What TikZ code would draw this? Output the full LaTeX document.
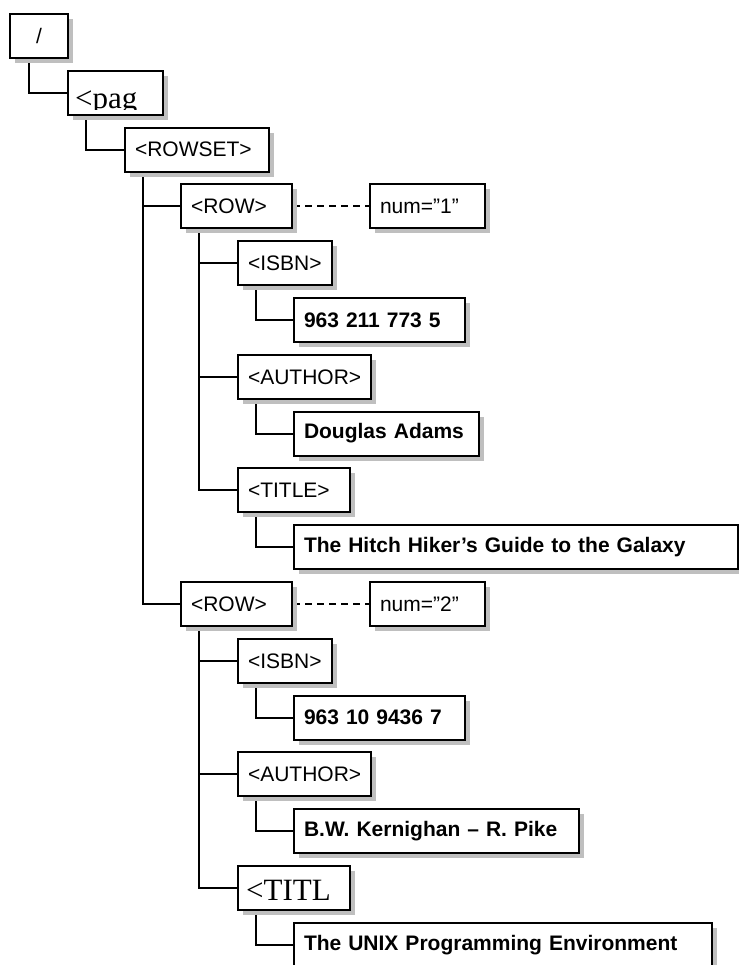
\documentclass[tikz,border=0pt]{standalone}
\usepackage{fontspec}
\setmainfont{Liberation Sans}
\newfontfamily\serifclip{Liberation Serif}
\usetikzlibrary{shadows,backgrounds}
\tikzset{
  box/.style={draw, line width=2pt, fill=white, anchor=north west,
    minimum height=44pt, inner xsep=10pt, inner ysep=0pt, align=left,
    font=\fontsize{21}{24}\selectfont,
    drop shadow={shadow xshift=5pt, shadow yshift=-5pt, fill=black!25, opacity=1}},
  vbox/.style={box, font=\fontsize{21}{24}\selectfont\bfseries},
  conn/.style={line width=2pt},
  dconn/.style={line width=1.8pt, dash pattern=on 7pt off 5pt},
  cliptext/.style={anchor=base west, inner sep=0pt, font=\serifclip\fontsize{31}{31}\selectfont}
}
\begin{document}
\begin{tikzpicture}[x=1pt,y=-1pt]
\useasboundingbox (0,0) rectangle (738,965);
% nodes
\node[box, text width=38pt, align=center] (root) at (9,13) {/};
\node[box, text width=75pt] (pag) at (67,69.8) {};
\node[box, text width=124pt] (rowset) at (124,126.6) {<ROWSET>};
\node[box, text width=91pt] (row1) at (180,183.4) {<ROW>};
\node[box, text width=95pt] (num1) at (369,183.4) {num=”1”};
\node[box, text width=74pt] (isbn1) at (237,240.2) {<ISBN>};
\node[vbox, text width=151pt] (val1) at (293,297) {963 211 773 5};
\node[box, text width=113pt] (author1) at (237,353.8) {<AUTHOR>};
\node[vbox, text width=165pt] (val2) at (293,410.6) {Douglas Adams};
\node[box, text width=92pt] (title1) at (237,467.4) {<TITLE>};
\node[vbox, text width=424pt] (val3) at (293,524.2) {The Hitch Hiker’s Guide to the Galaxy};
\node[box, text width=91pt] (row2) at (180,581) {<ROW>};
\node[box, text width=95pt] (num2) at (369,581) {num=”2”};
\node[box, text width=74pt] (isbn2) at (237,637.8) {<ISBN>};
\node[vbox, text width=151pt] (val4) at (293,694.6) {963 10 9436 7};
\node[box, text width=113pt] (author2) at (237,751.4) {<AUTHOR>};
\node[vbox, text width=265pt] (val5) at (293,808.2) {B.W. Kernighan – R. Pike};
\node[box, text width=92pt] (title2) at (237,865) {};
\node[vbox, text width=398pt] (val6) at (293,921.8) {The UNIX Programming Environment};
% clipped serif labels
\begin{scope}
  \clip (68,71) rectangle (139,110);
  \node[cliptext] (pagtext) at (75,108.5) {<pag};
\end{scope}
\begin{scope}
  \clip (238,866) rectangle (329,907);
  \node[cliptext] (titltext) at (246,900.5) {<TITL};
\end{scope}
% connectors
\begin{pgfonlayer}{background}
\draw[conn] ([xshift=20pt]root.south west) |- (pag.west);
\draw[conn] ([xshift=19pt]pag.south west) |- (rowset.west);
\draw[conn] ([xshift=19pt]rowset.south west) |- (row1.west);
\draw[conn] ([xshift=19pt]rowset.south west) |- (row2.west);
\draw[conn] ([xshift=19pt]row1.south west) |- (isbn1.west);
\draw[conn] ([xshift=19pt]row1.south west) |- (author1.west);
\draw[conn] ([xshift=19pt]row1.south west) |- (title1.west);
\draw[conn] ([xshift=19pt]isbn1.south west) |- (val1.west);
\draw[conn] ([xshift=19pt]author1.south west) |- (val2.west);
\draw[conn] ([xshift=19pt]title1.south west) |- (val3.west);
\draw[conn] ([xshift=19pt]row2.south west) |- (isbn2.west);
\draw[conn] ([xshift=19pt]row2.south west) |- (author2.west);
\draw[conn] ([xshift=19pt]row2.south west) |- (title2.west);
\draw[conn] ([xshift=19pt]isbn2.south west) |- (val4.west);
\draw[conn] ([xshift=19pt]author2.south west) |- (val5.west);
\draw[conn] ([xshift=19pt]title2.south west) |- (val6.west);
\draw[dconn] (row1.east) -- (num1.west);
\draw[dconn] (row2.east) -- (num2.west);
\end{pgfonlayer}
\end{tikzpicture}
\end{document}
